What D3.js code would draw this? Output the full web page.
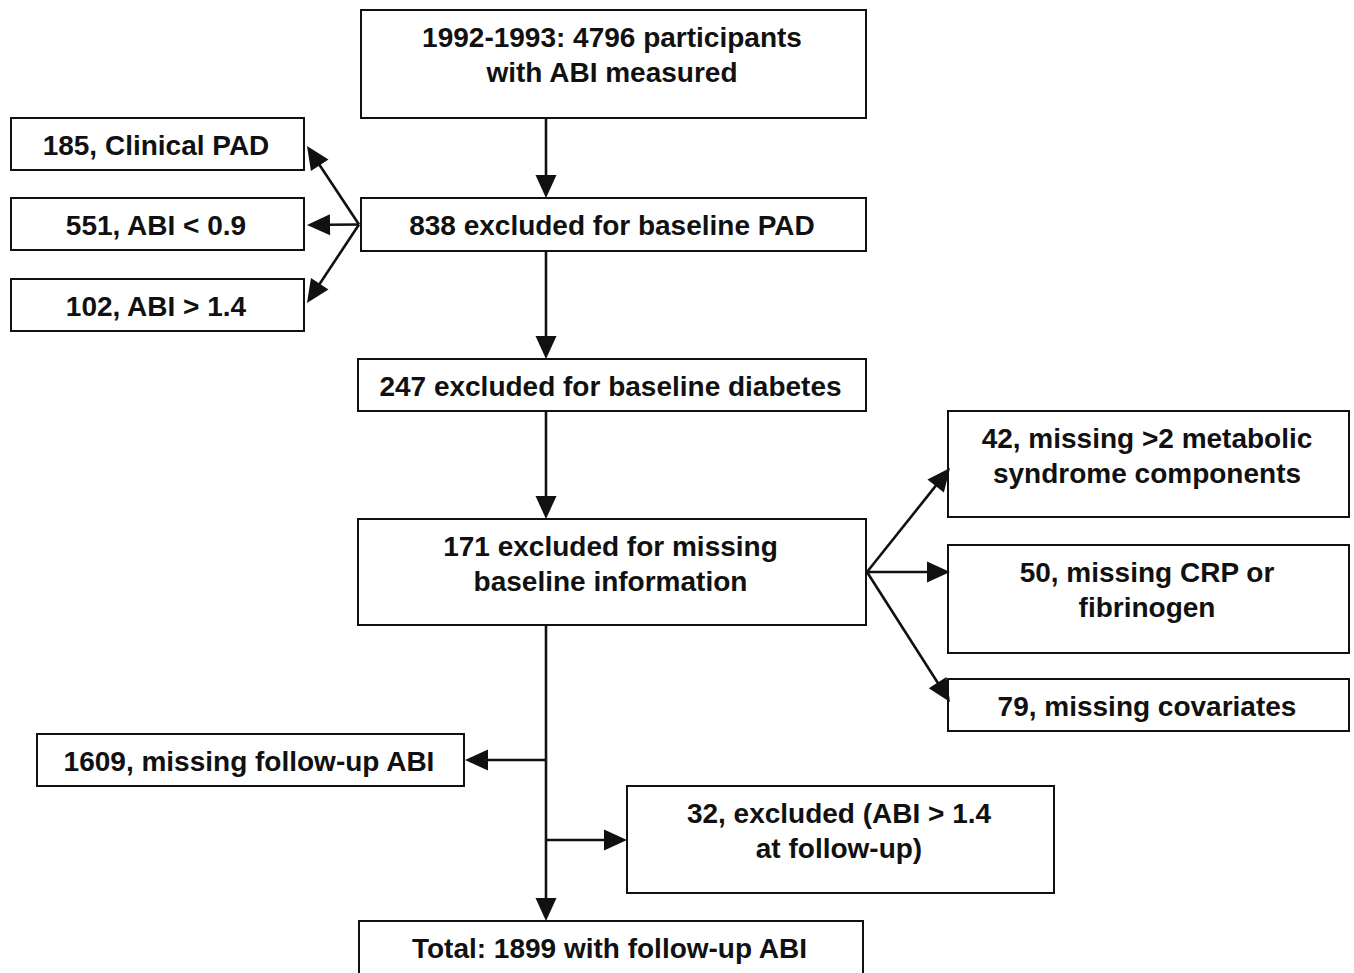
<!DOCTYPE html>
<html>
<head>
<meta charset="utf-8">
<script src="https://cdn.jsdelivr.net/npm/d3@7"></script>
<style>
  html, body { margin: 0; padding: 0; background: #ffffff; }
  svg { display: block; }
  text { font-family: "Liberation Sans", Arial, Helvetica, sans-serif; font-weight: bold; fill: #111; }
</style>
</head>
<body>
<svg id="chart" width="1354" height="973"></svg>
<script>
// ---- data: flow steps (labels and counts) ----
const mainSteps = [
  ["1992-1993: 4796 participants", "with ABI measured"],
  ["838 excluded for baseline PAD"],
  ["247 excluded for baseline diabetes"],
  ["171 excluded for missing", "baseline information"],
  ["Total: 1899 with follow-up ABI"]
];
const padReasons = [
  ["185, Clinical PAD"],
  ["551, ABI < 0.9"],
  ["102, ABI > 1.4"]
];
const missingReasons = [
  ["42, missing >2 metabolic", "syndrome components"],
  ["50, missing CRP or", "fibrinogen"],
  ["79, missing covariates"]
];
const followUpExclusions = [
  ["1609, missing follow-up ABI"],
  ["32, excluded (ABI > 1.4", "at follow-up)"]
];

// ---- layout (pixel geometry, kept separate from the data) ----
const mainBoxes = [
  {x0: 361, x1: 866, y0: 10,  y1: 118},
  {x0: 361, x1: 866, y0: 198, y1: 251},
  {x0: 358, x1: 866, y0: 359, y1: 411},
  {x0: 358, x1: 866, y0: 519, y1: 625},
  {x0: 359, x1: 863, y0: 921, y1: 975}
];
const padBoxes = [
  {x0: 11, x1: 304, y0: 118, y1: 170},
  {x0: 11, x1: 304, y0: 198, y1: 250},
  {x0: 11, x1: 304, y0: 279, y1: 331}
];
const missBoxes = [
  {x0: 948, x1: 1349, y0: 411, y1: 517},
  {x0: 948, x1: 1349, y0: 545, y1: 653},
  {x0: 948, x1: 1349, y0: 679, y1: 731}
];
const fuBoxes = [
  {x0: 37,  x1: 464,  y0: 734, y1: 786},
  {x0: 627, x1: 1054, y0: 786, y1: 893}
];

const svg = d3.select("#chart");
const spineX = 546;
const lineGap = 35;
const firstLine = 27.5;

function drawBoxes(boxes, labels, cls) {
  const g = svg.append("g").attr("class", cls);
  const items = g.selectAll("g").data(boxes.map((b, i) => ({...b, lines: labels[i]})))
    .join("g");
  items.append("rect")
    .attr("x", d => d.x0).attr("y", d => d.y0)
    .attr("width", d => d.x1 - d.x0).attr("height", d => d.y1 - d.y0)
    .attr("fill", "#fff").attr("stroke", "#111").attr("stroke-width", 2);
  items.each(function(d) {
    const t = d3.select(this).append("text")
      .attr("text-anchor", "middle")
      .attr("font-size", 28);
    d.lines.forEach((ln, j) => {
      t.append("tspan")
        .attr("x", (d.x0 + d.x1) / 2 - 1.5)
        .attr("y", d.y0 + firstLine + j * lineGap)
        .attr("dy", "0.34em")
        .text(ln);
    });
  });
}

drawBoxes(mainBoxes, mainSteps, "main");
drawBoxes(padBoxes, padReasons, "pad");
drawBoxes(missBoxes, missingReasons, "miss");
drawBoxes(fuBoxes, followUpExclusions, "fu");

// ---- arrows ----
const arrows = [];
// main spine
for (let i = 0; i < mainBoxes.length - 1; i++) {
  arrows.push({x1: spineX, y1: mainBoxes[i].y1, x2: spineX, y2: mainBoxes[i + 1].y0});
}
// left fan from 838 box
const lf = {x: mainBoxes[1].x0 - 2, y: (mainBoxes[1].y0 + mainBoxes[1].y1) / 2};
const lfTargets = [{x: 307, y: 146}, {x: 307, y: 225}, {x: 307, y: 303}];
lfTargets.forEach(t => arrows.push({x1: lf.x, y1: lf.y, x2: t.x, y2: t.y}));
// right fan from 171 box
const rf = {x: mainBoxes[3].x1 + 1, y: 572};
const rfTargets = [{x: 950, y: 468}, {x: 950, y: 572}, {x: 950, y: 702}];
rfTargets.forEach(t => arrows.push({x1: rf.x, y1: rf.y, x2: t.x, y2: t.y}));
// follow-up branches
arrows.push({x1: spineX, y1: 760, x2: fuBoxes[0].x1 + 1, y2: 760});
arrows.push({x1: spineX, y1: 840, x2: fuBoxes[1].x0, y2: 840});

const headLen = 23, headHalf = 10.5;
const ag = svg.append("g").attr("class", "arrows");
arrows.forEach(a => {
  const dx = a.x2 - a.x1, dy = a.y2 - a.y1;
  const L = Math.hypot(dx, dy);
  const ux = dx / L, uy = dy / L;
  const bx = a.x2 - ux * headLen, by = a.y2 - uy * headLen;
  ag.append("line")
    .attr("x1", a.x1).attr("y1", a.y1).attr("x2", bx + ux * 2).attr("y2", by + uy * 2)
    .attr("stroke", "#111").attr("stroke-width", 2.6);
  const pts = [
    [a.x2, a.y2],
    [bx - uy * headHalf, by + ux * headHalf],
    [bx + uy * headHalf, by - ux * headHalf]
  ];
  ag.append("polygon").attr("points", pts.map(p => p.join(",")).join(" ")).attr("fill", "#111");
});
</script>
</body>
</html>
